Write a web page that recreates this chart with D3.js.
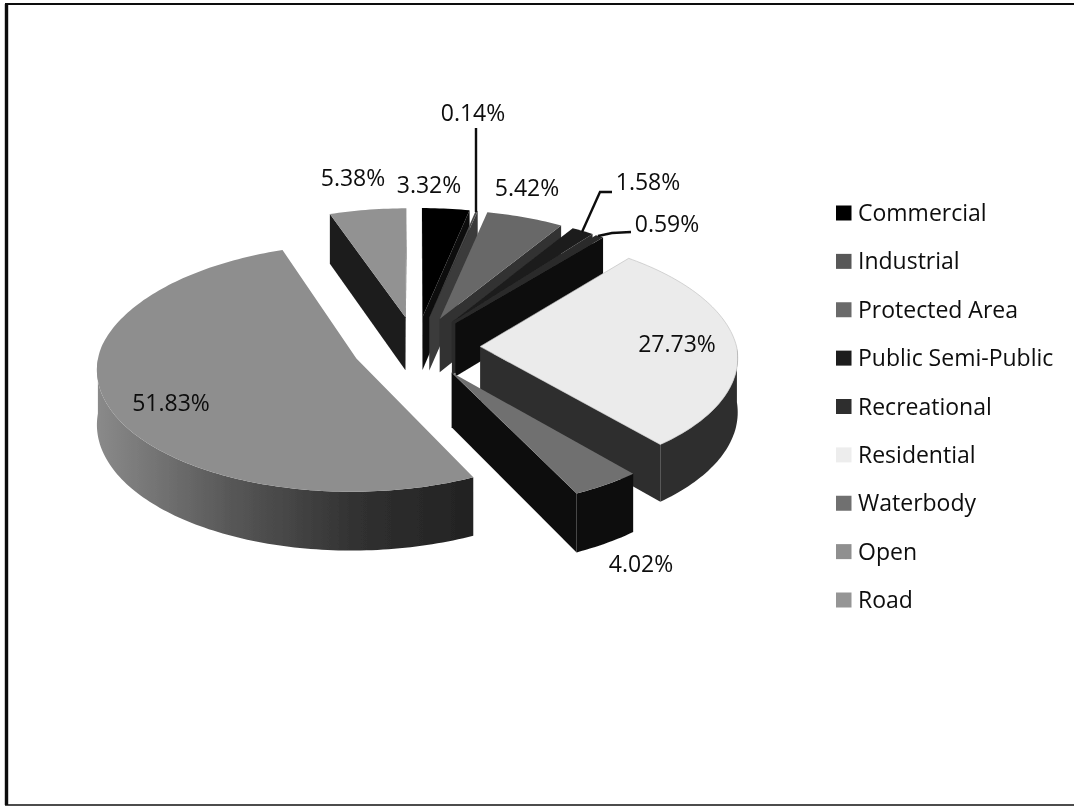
<!DOCTYPE html>
<html>
<head>
<meta charset="utf-8">
<script src="https://cdn.jsdelivr.net/npm/d3@7"></script>
<style>
  html, body { margin: 0; padding: 0; background: #fff; }
  svg { display: block; }
  text { font-family: "Open Sans", sans-serif; fill: #0c0c0c; }
</style>
</head>
<body>
<svg id="chart" width="1074" height="806"></svg>
<script>
var categories = ['Commercial', 'Industrial', 'Protected Area', 'Public Semi-Public', 'Recreational', 'Residential', 'Waterbody', 'Open', 'Road'];
var shares = [3.32, 0.14, 5.42, 1.58, 0.59, 27.73, 4.02, 51.83, 5.38];
var topColors = ['#050505', '#4c4c4c', '#676767', '#1c1c1c', '#2c2c2c', '#ebebeb', '#707070', '#8e8e8e', '#929292'];
var sideColors = ['#0c0c0c', '#3a3a3a', '#303030', '#2c2c2c', '#0e0e0e', '#2e2e2e', '#101010', 'url(#open-wall)', '#1c1c1c'];
var legendColors = ['#050505', '#595959', '#6b6b6b', '#1a1a1a', '#2e2e2e', '#ededed', '#707070', '#8f8f8f', '#959595'];
// back to front
var drawOrder = [0, 1, 2, 3, 4, 8, 5, 7, 6];

var svg = d3.select('#chart');
var defs = svg.append('defs');
defs.append('filter').attr('id', 'soft').append('feGaussianBlur').attr('stdDeviation', 0.45);
var grad = defs.append('linearGradient').attr('id', 'open-wall').attr('gradientUnits', 'userSpaceOnUse')
  .attr('x1', 97).attr('y1', 0).attr('x2', 473).attr('y2', 0);
grad.selectAll('stop').data([[0, '#8a8a8a'], [0.35, '#585858'], [0.7, '#303030'], [1, '#222']]).join('stop')
  .attr('offset', function(d) { return d[0]; }).attr('stop-color', function(d) { return d[1]; });

var root = svg.append('g').attr('filter', 'url(#soft)');

// Frame: heavy on the left, thin on top and bottom, none on the right
var frame = [[[5, 4], [1074, 4]], [[6.5, 4], [6.5, 805]], [[5, 805], [1074, 805]]];
var frameWidth = [1.8, 3.4, 1.6];
root.append('g').selectAll('path').data(frame).join('path')
  .attr('d', d3.line()).attr('fill', 'none').attr('stroke', '#111')
  .attr('stroke-width', function(d, i) { return frameWidth[i]; });

// Pie plane -> screen, a simple perspective with the back of the pie further away
var P = { X0: 416, Y0: 346.7, A: 256.5, B: 121.4, K: 0.075, KX_BACK: 0.095, EXPLODE: 0.25, DEPTH: 54, STEP: 0.02 };
var xScale = d3.scaleLinear().domain([-1, 1]).range([P.X0 - P.A, P.X0 + P.A]);
var yScale = d3.scaleLinear().domain([-1, 1]).range([P.Y0 + P.B, P.Y0 - P.B]);

function project(u, v, down) {
  var s = 1 / (1 + P.K * v);
  var sx = v > 0 ? 1 / (1 + P.KX_BACK * v) : s;
  return [xScale(u * sx), yScale(v * s) + (down ? P.DEPTH * s : 0)];
}
function polar(slice, angle, r) {
  var mid = (slice.startAngle + slice.endAngle) / 2;
  return [P.EXPLODE * Math.sin(mid) + r * Math.sin(angle), P.EXPLODE * Math.cos(mid) + r * Math.cos(angle)];
}

var line = d3.line().curve(d3.curveLinearClosed);
var slices = d3.pie().sort(null).value(function(d) { return d; })(shares);

var pieGroup = root.append('g');
drawOrder.forEach(function(i) {
  var sl = slices[i];
  var g = pieGroup.append('g').attr('class', 'slice').attr('data-name', categories[i]);
  var n = Math.max(2, Math.ceil((sl.endAngle - sl.startAngle) / P.STEP));
  var angles = d3.range(n + 1).map(function(k) { return sl.startAngle + (sl.endAngle - sl.startAngle) * k / n; });
  var apex = polar(sl, 0, 0);
  var rim = angles.map(function(a) { var p = polar(sl, a, 1); p.a = a; return p; });

  // Cut faces, skipped when they face away
  [rim[0], rim[rim.length - 1]].forEach(function(p, j) {
    var q = [project(apex[0], apex[1]), project(p[0], p[1]), project(p[0], p[1], true), project(apex[0], apex[1], true)];
    var area = d3.polygonArea(q);
    if ((j === 0 && area > 0) || (j === 1 && area < 0)) {
      g.append('path').attr('d', line(q)).attr('fill', sideColors[i] === 'url(#open-wall)' ? '#222' : sideColors[i]);
    }
  });

  // Outer wall, front half only
  var front = rim.filter(function(p) { return Math.cos(p.a) < 0; });
  if (front.length > 1) {
    var wall = front.map(function(p) { return project(p[0], p[1]); })
      .concat(front.slice().reverse().map(function(p) { return project(p[0], p[1], true); }));
    g.append('path').attr('d', line(wall)).attr('fill', sideColors[i]);
  }

  // Top face
  var top = [project(apex[0], apex[1])].concat(rim.map(function(p) { return project(p[0], p[1]); }));
  g.append('path').attr('d', line(top)).attr('fill', topColors[i])
    .attr('stroke', i === 5 ? '#bbb' : 'none').attr('stroke-width', 0.6);
});

// Data labels
var labelText = shares.map(function(d) { return d + '%'; });
var labelX = [429, 473, 527, 648, 667, 677, 641, 171, 353];
var labelY = [185, 113, 188, 182, 224, 344, 564, 403, 178];
root.append('g').selectAll('text').data(labelText).join('text')
  .attr('x', function(d, i) { return labelX[i]; })
  .attr('y', function(d, i) { return labelY[i]; })
  .attr('dy', '0.35em').attr('text-anchor', 'middle').attr('font-size', 23)
  .text(function(d) { return d; });

// Leader lines for the thin slices
var leaders = [
  [[476, 128], [476, 212]],
  [[612, 192], [600, 192], [582, 232]],
  [[631, 232], [612, 233], [598, 236]]
];
root.append('g').selectAll('path').data(leaders).join('path')
  .attr('d', d3.line())
  .attr('fill', 'none').attr('stroke', '#111').attr('stroke-width', 2.4);

// Legend
var legendY = d3.scalePoint().domain(categories).range([213, 600]);
var legend = root.append('g').selectAll('g').data(categories).join('g')
  .attr('transform', function(d) { return 'translate(836,' + legendY(d) + ')'; });
legend.append('rect').attr('x', 0).attr('y', -7.5).attr('width', 15.5).attr('height', 15)
  .attr('fill', function(d, i) { return legendColors[i]; });
legend.append('text').attr('x', 22).attr('dy', '0.35em').attr('font-size', 23)
  .text(function(d) { return d; });
</script>
</body>
</html>
